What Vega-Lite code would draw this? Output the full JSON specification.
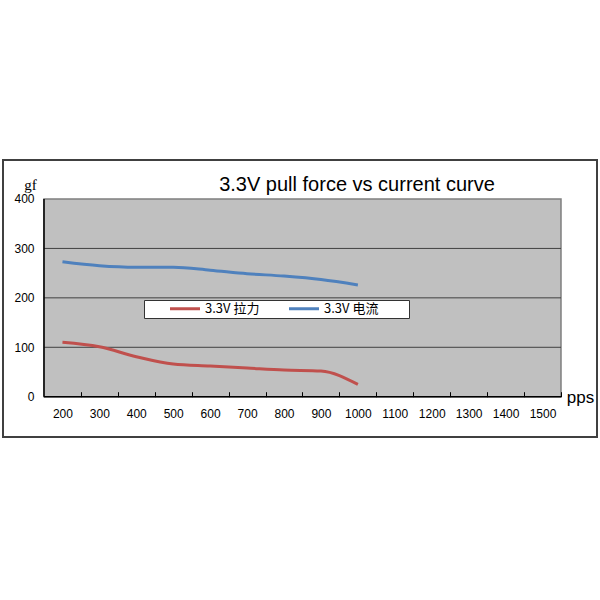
{
  "$schema": "https://vega.github.io/schema/vega-lite/v6.json",
  "width": 594,
  "height": 277,
  "autosize": {"type": "none"},
  "padding": {"left": 3, "top": 160, "right": 3, "bottom": 163},
  "background": "white",
  "config": {
    "view": {"stroke": "#404040", "strokeWidth": 2, "fill": "white"},
    "font": "Liberation Sans"
  },
  "title": {
    "text": "3.3V pull force vs current curve",
    "anchor": "middle",
    "frame": "group",
    "dx": 57,
    "offset": -51,
    "baseline": "alphabetic",
    "font": "Liberation Sans",
    "fontSize": 20,
    "fontWeight": "normal",
    "color": "#000000"
  },
  "data": {
    "values": [
      {"pps": 200, "value": 110, "series": "3.3V 拉力"},
      {"pps": 300, "value": 101, "series": "3.3V 拉力"},
      {"pps": 400, "value": 81, "series": "3.3V 拉力"},
      {"pps": 500, "value": 66, "series": "3.3V 拉力"},
      {"pps": 600, "value": 62, "series": "3.3V 拉力"},
      {"pps": 700, "value": 58, "series": "3.3V 拉力"},
      {"pps": 800, "value": 54, "series": "3.3V 拉力"},
      {"pps": 900, "value": 52, "series": "3.3V 拉力"},
      {"pps": 1000, "value": 25, "series": "3.3V 拉力"},
      {"pps": 200, "value": 273, "series": "3.3V 电流"},
      {"pps": 300, "value": 265, "series": "3.3V 电流"},
      {"pps": 400, "value": 262, "series": "3.3V 电流"},
      {"pps": 500, "value": 262, "series": "3.3V 电流"},
      {"pps": 600, "value": 256, "series": "3.3V 电流"},
      {"pps": 700, "value": 249, "series": "3.3V 电流"},
      {"pps": 800, "value": 244, "series": "3.3V 电流"},
      {"pps": 900, "value": 237, "series": "3.3V 电流"},
      {"pps": 1000, "value": 226, "series": "3.3V 电流"}
    ]
  },
  "layer": [
    {
      "data": {"values": [{}]},
      "mark": {"type": "rect", "fill": "#c0c0c0", "stroke": "#7f7f7f", "strokeWidth": 1.5},
      "encoding": {
        "x": {
          "datum": 150,
          "type": "quantitative",
          "scale": {"domain": [39, 1647.5], "nice": false, "zero": false},
          "axis": {
            "values": [250, 350, 450, 550, 650, 750, 850, 950, 1050, 1150, 1250, 1350, 1450, 1550],
            "labelExpr": "datum.value - 50",
            "labelOffset": -18.5,
            "offset": -40.3,
            "zindex": 1,
            "domain": false,
            "grid": false,
            "ticks": true,
            "tickSize": -5,
            "tickColor": "#000000",
            "tickWidth": 1,
            "labelPadding": 17,
            "labelFont": "Liberation Sans",
            "labelFontSize": 12,
            "labelColor": "#000000",
            "labelBaseline": "top",
            "labelFlush": false,
            "labelOverlap": false,
            "title": "pps",
            "titleFont": "Liberation Sans",
            "titleFontSize": 17,
            "titleFontWeight": "normal",
            "titleColor": "#000000",
            "titleX": 577,
            "titleY": 6,
            "titleAlign": "center",
            "titleBaseline": "alphabetic"
          }
        },
        "x2": {"datum": 1550},
        "y": {
          "datum": 0,
          "type": "quantitative",
          "scale": {"domain": [-81.5, 478.9], "nice": false, "zero": false},
          "axis": {
            "values": [0, 100, 200, 300, 400],
            "offset": -41,
            "zindex": 1,
            "domain": false,
            "grid": false,
            "ticks": false,
            "labelPadding": 10,
            "labelFont": "Liberation Sans",
            "labelFontSize": 12,
            "labelColor": "#000000",
            "labelFlush": false,
            "title": "gf",
            "titleFont": "Liberation Serif",
            "titleFontSize": 15,
            "titleFontWeight": "normal",
            "titleColor": "#000000",
            "titleAngle": 0,
            "titleX": -14,
            "titleY": 24,
            "titleAlign": "center",
            "titleBaseline": "middle"
          }
        },
        "y2": {"datum": 400}
      }
    },
    {
      "data": {"values": [{"g": 100}, {"g": 200}, {"g": 300}]},
      "mark": {"type": "rule", "color": "#404040", "strokeWidth": 1},
      "encoding": {
        "x": {"datum": 150, "type": "quantitative", "scale": {"domain": [39, 1647.5], "nice": false, "zero": false}},
        "x2": {"datum": 1550},
        "y": {"field": "g", "type": "quantitative", "scale": {"domain": [-81.5, 478.9], "nice": false, "zero": false}}
      }
    },
    {
      "data": {"values": [{}]},
      "mark": {"type": "rule", "color": "#000000", "strokeWidth": 1.5},
      "encoding": {
        "x": {"datum": 150, "type": "quantitative", "scale": {"domain": [39, 1647.5], "nice": false, "zero": false}},
        "x2": {"datum": 1550},
        "y": {"datum": 0, "type": "quantitative", "scale": {"domain": [-81.5, 478.9], "nice": false, "zero": false}}
      }
    },
    {
      "data": {"values": [{}]},
      "mark": {"type": "rule", "color": "#000000", "strokeWidth": 1.5},
      "encoding": {
        "x": {"datum": 150, "type": "quantitative", "scale": {"domain": [39, 1647.5], "nice": false, "zero": false}},
        "y": {"datum": 0, "type": "quantitative", "scale": {"domain": [-81.5, 478.9], "nice": false, "zero": false}},
        "y2": {"datum": 400}
      }
    },
    {
      "mark": {"type": "line", "interpolate": "monotone", "strokeWidth": 3},
      "encoding": {
        "x": {"field": "pps", "type": "quantitative", "scale": {"domain": [39, 1647.5], "nice": false, "zero": false}},
        "y": {"field": "value", "type": "quantitative", "scale": {"domain": [-81.5, 478.9], "nice": false, "zero": false}},
        "color": {
          "field": "series",
          "type": "nominal",
          "scale": {"domain": ["3.3V 拉力", "3.3V 电流"], "range": ["#c0504d", "#4f81bd"]},
          "legend": {
            "orient": "none",
            "legendX": 141,
            "legendY": 140,
            "direction": "horizontal",
            "title": "\u00a0",
            "titleOrient": "right",
            "titlePadding": 29,
            "titleFontSize": 13,
            "fillColor": "#ffffff",
            "strokeColor": "#333333",
            "padding": 2,
            "symbolType": "M-3,0H3",
            "symbolSize": 100,
            "symbolStrokeWidth": 3,
            "symbolOffset": 32.5,
            "labelOffset": 13.5,
            "labelFont": "Noto Sans CJK SC",
            "labelFontSize": 13,
            "labelColor": "#000000",
            "columnPadding": 5
          }
        }
      }
    }
  ]
}
